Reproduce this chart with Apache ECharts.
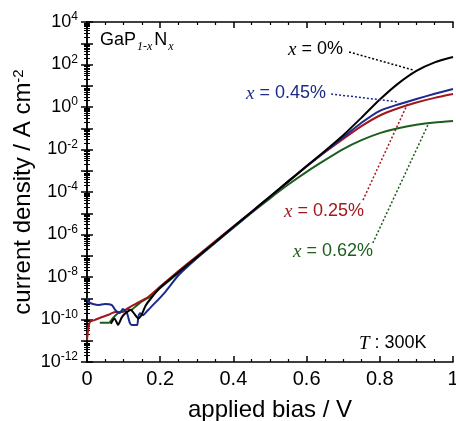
<!DOCTYPE html>
<html lang="en">
<head>
    <meta charset="UTF-8">
    <title>GaPN J-V</title>
    <script src="https://cdn.jsdelivr.net/npm/echarts@6.0.0/dist/echarts.min.js"></script>
    <style>
        html, body { margin: 0; padding: 0; background: #fff; }
    </style>
</head>
<body>
    <div id="main" style="width: 456px;height:421px;"></div>
    <script type="text/javascript">
        // bias (V) and log10 of current density (A cm^-2)
        const biasX0 = [0.065, 0.075, 0.085, 0.095, 0.105, 0.12, 0.13, 0.14, 0.15, 0.16, 0.175, 0.2, 0.25, 0.3, 0.35, 0.4, 0.45, 0.5, 0.55, 0.6, 0.65, 0.7, 0.75, 0.8, 0.85, 0.9, 0.95, 1.0];
        const logJX0 = [-10.2, -9.95, -10.25, -9.9, -9.7, -9.55, -9.75, -9.95, -9.75, -9.35, -9.0, -8.5, -7.78, -7.07, -6.36, -5.64, -4.93, -4.21, -3.5, -2.78, -2.07, -1.33, -0.5, 0.35, 1.1, 1.7, 2.1, 2.35];

        const biasX045 = [0, 0.008, 0.03, 0.049, 0.068, 0.077, 0.09, 0.098, 0.109, 0.117, 0.122, 0.137, 0.14, 0.145, 0.153, 0.167, 0.186, 0.213, 0.25, 0.3, 0.35, 0.4, 0.45, 0.5, 0.55, 0.6, 0.65, 0.7, 0.75, 0.8, 0.85, 0.9, 0.95, 1.0];
        const logJX045 = [-9.0, -9.22, -9.32, -9.27, -9.32, -9.55, -9.69, -9.5, -9.69, -10.16, -10.26, -10.26, -9.88, -9.7, -9.8, -9.55, -9.22, -8.72, -7.92, -7.12, -6.38, -5.66, -4.94, -4.22, -3.5, -2.79, -2.1, -1.42, -0.74, -0.18, 0.12, 0.38, 0.62, 0.85];

        const biasX025 = [0, 0.003, 0.008, 0.022, 0.041, 0.057, 0.077, 0.096, 0.112, 0.14, 0.167, 0.2, 0.25, 0.3, 0.35, 0.4, 0.45, 0.5, 0.55, 0.6, 0.65, 0.7, 0.75, 0.8, 0.85, 0.9, 0.95, 1.0];
        const logJX025 = [-10.96, -10.5, -10.12, -10.02, -9.88, -9.79, -9.65, -9.65, -9.46, -9.2, -8.94, -8.45, -7.72, -7.02, -6.32, -5.62, -4.93, -4.22, -3.5, -2.8, -2.13, -1.5, -0.9, -0.4, -0.06, 0.21, 0.43, 0.61];

        const biasX062 = [0.035, 0.06, 0.07, 0.085, 0.1, 0.11, 0.12, 0.135, 0.15, 0.175, 0.2, 0.25, 0.3, 0.35, 0.4, 0.45, 0.5, 0.55, 0.6, 0.65, 0.7, 0.75, 0.8, 0.85, 0.9, 0.95, 1.0];
        const logJX062 = [-10.15, -10.15, -9.95, -9.7, -9.6, -9.5, -9.55, -9.35, -9.15, -8.9, -8.52, -7.8, -7.1, -6.4, -5.68, -4.98, -4.3, -3.65, -3.05, -2.5, -1.98, -1.56, -1.23, -1.0, -0.84, -0.73, -0.66];

        const seriesNames = ['x = 0%', 'x = 0.45%', 'x = 0.25%', 'x = 0.62%'];
        const seriesColors = ['#000000', '#1c2a8c', '#a3161c', '#1d5e1d'];
        const seriesBias = [biasX0, biasX045, biasX025, biasX062];
        const seriesLogJ = [logJX0, logJX045, logJX025, logJX062];

        // leader lines from each label to its curve: [bias, log10 J] pairs
        const leaders = [
            [[0.716, 2.59], [0.891, 1.74]],
            [[0.667, 0.61], [0.852, 0.24]],
            [[0.754, -4.38], [0.877, 0.19]],
            [[0.781, -6.4], [0.934, -0.75]]
        ];

        const font = 'Liberation Sans, Arial, sans-serif';
        const serif = 'Liberation Serif, Times New Roman, serif';

        let myChart = echarts.init(document.getElementById('main'));

        const series = seriesNames.map((name, k) => ({
            name: name,
            type: 'line',
            showSymbol: false,
            smooth: 0.2,
            z: 4 - k,
            lineStyle: { color: seriesColors[k], width: 2 },
            data: seriesBias[k].map((v, i) => [v, Math.pow(10, seriesLogJ[k][i])]),
            markLine: {
                silent: true,
                symbol: 'none',
                label: { show: false },
                lineStyle: { color: seriesColors[k], type: [2, 2], width: 1.5 },
                data: [[
                    { coord: [leaders[k][0][0], Math.pow(10, leaders[k][0][1])] },
                    { coord: [leaders[k][1][0], Math.pow(10, leaders[k][1][1])] }
                ]]
            }
        }));

        const xCommon = {
            type: 'value', min: 0, max: 1, interval: 0.2,
            axisLine: { show: true, lineStyle: { color: '#000', width: 1.5 } },
            axisTick: { inside: true, length: 6, lineStyle: { color: '#000', width: 1.5 } },
            minorTick: { show: true, splitNumber: 4, length: 3, lineStyle: { color: '#000', width: 1.2 } },
            splitLine: { show: false }
        };
        const yCommon = {
            type: 'log', logBase: 10, min: 1e-12, max: 1e4, interval: 1,
            axisLine: { show: true, lineStyle: { color: '#000', width: 1.5 } },
            axisTick: { inside: true, length: 6, lineStyle: { color: '#000', width: 1.5 } },
            minorTick: { show: true, splitNumber: 9, length: 3, lineStyle: { color: '#000', width: 1 } },
            splitLine: { show: false }
        };

        let options = {
            animation: false,
            grid: { left: 87, right: 3, top: 22, bottom: 59, containLabel: false, outerBoundsMode: 'none' },
            xAxis: [
                Object.assign({}, xCommon, {
                    position: 'bottom',
                    name: 'applied bias / V',
                    nameLocation: 'middle',
                    nameGap: 36,
                    nameTextStyle: { fontFamily: font, fontSize: 24, color: '#000' },
                    axisLabel: { fontFamily: font, fontSize: 20, color: '#000', margin: 7 }
                }),
                Object.assign({}, xCommon, { position: 'top', axisLabel: { show: false } })
            ],
            yAxis: [
                Object.assign({}, yCommon, {
                    position: 'left',
                    name: 'current density / A cm{s|-2}',
                    nameLocation: 'middle',
                    nameGap: 52,
                    nameMoveOverlap: false,
                    nameTextStyle: {
                        fontFamily: font, fontSize: 24, color: '#000',
                        rich: { s: { fontFamily: font, fontSize: 15, color: '#000', verticalAlign: 'top', lineHeight: 16 } }
                    },
                    axisLabel: {
                        margin: 9,
                        formatter: function (val) {
                            const e = Math.round(Math.log10(val));
                            if (e % 2 !== 0) return '';
                            return '{b|10}{s|' + e + '}';
                        },
                        rich: {
                            b: { fontFamily: font, fontSize: 18, color: '#000', lineHeight: 22 },
                            s: { fontFamily: font, fontSize: 12, color: '#000', verticalAlign: 'top', lineHeight: 14 }
                        }
                    }
                }),
                Object.assign({}, yCommon, { position: 'right', axisLabel: { show: false } })
            ],
            graphic: [
                {
                    type: 'text', left: 100, top: 31,
                    style: {
                        text: '{n|GaP}{sub|1-x}{n|N}{sub|x}',
                        rich: {
                            n: { fontFamily: font, fontSize: 18, fill: '#000', lineHeight: 22, verticalAlign: 'top' },
                            sub: { fontFamily: serif, fontSize: 12, fill: '#000', fontStyle: 'italic', lineHeight: 22, verticalAlign: 'bottom', padding: [0, 2, 0, 1] }
                        }
                    }
                },
                {
                    type: 'text', left: 288, top: 40,
                    style: { text: '{i|x} = 0%', font: '18px ' + font, fill: seriesColors[0], rich: { i: { fontFamily: serif, fontStyle: 'italic', fontSize: 19, fill: seriesColors[0] } } }
                },
                {
                    type: 'text', left: 246, top: 84,
                    style: { text: '{i|x} = 0.45%', font: '18px ' + font, fill: seriesColors[1], rich: { i: { fontFamily: serif, fontStyle: 'italic', fontSize: 19, fill: seriesColors[1] } } }
                },
                {
                    type: 'text', left: 284, top: 202,
                    style: { text: '{i|x} = 0.25%', font: '18px ' + font, fill: seriesColors[2], rich: { i: { fontFamily: serif, fontStyle: 'italic', fontSize: 19, fill: seriesColors[2] } } }
                },
                {
                    type: 'text', left: 293, top: 242,
                    style: { text: '{i|x} = 0.62%', font: '18px ' + font, fill: seriesColors[3], rich: { i: { fontFamily: serif, fontStyle: 'italic', fontSize: 19, fill: seriesColors[3] } } }
                },
                {
                    type: 'text', left: 359, top: 334,
                    style: { text: '{i|T} : 300K', font: '18px ' + font, fill: '#000', rich: { i: { fontFamily: serif, fontStyle: 'italic', fontSize: 19, fill: '#000' } } }
                }
            ],
            series: series
        };

        myChart.setOption(options);
    </script>
</body>
</html>
